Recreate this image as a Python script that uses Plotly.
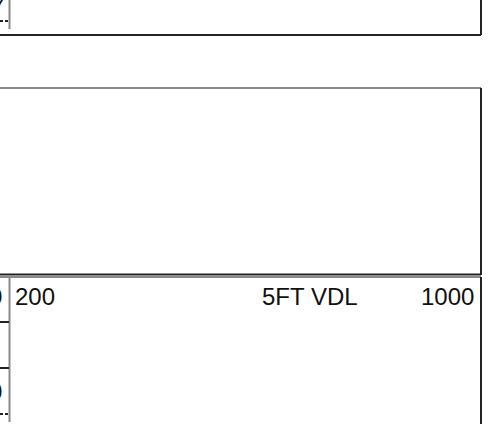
import plotly.graph_objects as go

# Log header content (data)
curve_names = ["5FT VDL"]
scale_left = ["200"]
scale_right = ["1000"]
clipped_labels = ["7", "0", "0"]

W, H = 494, 424
fig = go.Figure()

dark = "#222222"
gray = "#8a8a8a"

def seg(x0, y0, x1, y1, color=dark, width=2, dash=None):
    line = dict(color=color, width=width)
    if dash:
        line["dash"] = dash
    fig.add_shape(type="line", x0=x0, y0=y0, x1=x1, y1=y1, xref="x", yref="y", line=line)

# top panel (cut)
seg(9.5, 0, 9.5, 29, gray)
seg(0, 21, 9, 21, dark, 2, "3px,2px")
seg(0, 35, 481, 35)
seg(481, 0, 481, 35)
# middle panel
seg(0, 88, 481, 88, gray)
seg(481, 88, 481, 275)
seg(0, 274.5, 481, 274.5)
# bottom panel (scale header)
seg(0, 277, 481, 277, gray)
seg(481, 277, 481, 424)
seg(9.5, 277, 9.5, 422, gray)
seg(0, 322, 9, 322)
seg(0, 368, 9, 368)
seg(0, 414, 8, 414, dark, 2, "3px,2px")

font = dict(family="Liberation Sans, Arial, sans-serif", size=24, color="#111111")

fig.add_annotation(x=13, y=296, text=scale_left[0], xanchor="left", yanchor="middle", showarrow=False, font=font)
fig.add_annotation(x=310, y=296, text=curve_names[0], xanchor="center", yanchor="middle", showarrow=False, font=font)
fig.add_annotation(x=476, y=296, text=scale_right[0], xanchor="right", yanchor="middle", showarrow=False, font=font)
# clipped labels from the neighbouring track
fig.add_annotation(x=6, y=6, text=clipped_labels[0], xanchor="right", yanchor="middle", showarrow=False, font=font)
fig.add_annotation(x=4, y=296, text=clipped_labels[1], xanchor="right", yanchor="middle", showarrow=False, font=font)
fig.add_annotation(x=4, y=391, text=clipped_labels[2], xanchor="right", yanchor="middle", showarrow=False, font=font)

fig.update_xaxes(range=[0, W], visible=False, fixedrange=True)
fig.update_yaxes(range=[H, 0], visible=False, fixedrange=True)
fig.update_layout(width=W, height=H, margin=dict(l=0, r=0, t=0, b=0),
                  paper_bgcolor="white", plot_bgcolor="white", showlegend=False)

fig.write_html("out.html", config={"displayModeBar": False},
               post_script="document.body.style.margin='0';document.body.style.overflow='hidden';")
